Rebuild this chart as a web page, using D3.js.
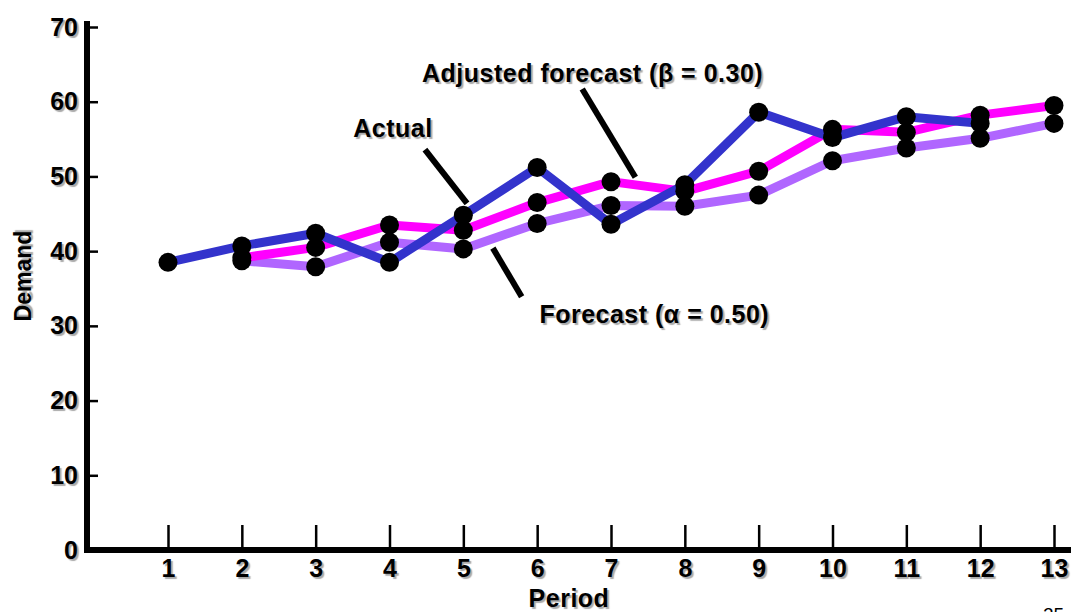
<!DOCTYPE html>
<html lang="en">
<head>
<meta charset="UTF-8">
<title>Trend adjusted forecast</title>
<script src="https://d3js.org/d3.v7.min.js"></script>
<style>
  body { margin: 0; background: #fff; }
  svg text {
    font-family: Arial, "Liberation Sans", sans-serif;
    font-weight: bold;
    font-size: 25px;
    fill: #000;
    text-shadow: 2px 2px 1px #aaa;
  }
  .lbl { letter-spacing: 0.5px; }
</style>
</head>
<body>
<div id="chart"></div>
<script>
// data
const periods = [1,2,3,4,5,6,7,8,9,10,11,12,13];
const actual = [38.5, 40.7, 42.4, 38.5, 44.8, 51.2, 43.6, 48.9, 58.6, 55.2, 58.0, 57.1];            // periods 1-12
const forecast = [38.7, 37.9, 41.2, 40.3, 43.7, 46.1, 46.0, 47.5, 52.1, 53.8, 55.1, 57.1];          // periods 2-13
const adjusted = [39.1, 40.5, 43.5, 42.8, 46.5, 49.3, 48.0, 50.7, 56.3, 55.9, 58.2, 59.5];          // periods 2-13
const yTicks = [0, 10, 20, 30, 40, 50, 60, 70];

// annotation leaders in data units [period, demand]
const leaders = [
  [[4.48, 53.6], [5.05, 46.4]],   // Actual
  [[5.40, 40.4], [5.79, 33.9]],   // Forecast
  [[6.61, 61.7], [7.33, 49.9]]    // Adjusted
];
const labels = [
  {text: "Actual", p: 3.51, v: 55.3},
  {text: "Adjusted forecast (\u03b2 = 0.30)", p: 4.44, v: 62.6},
  {text: "Forecast (\u03b1 = 0.50)", p: 6.03, v: 30.4}
];

const width = 1071, height = 612;
const svg = d3.select("#chart").append("svg")
  .attr("width", width).attr("height", height);

const x = d3.scaleLinear().domain([1, 13]).range([168, 1054]);
const y = d3.scaleLinear().domain([0, 70]).range([550, 27]);

// axes
const yAxis = d3.axisLeft(y).tickValues(yTicks).tickSize(-11).tickPadding(9);
const gy = svg.append("g").attr("transform", "translate(87,0)").call(yAxis);
gy.select(".domain").remove();
gy.selectAll(".tick line").attr("stroke", "#000").attr("stroke-width", 2.5);
gy.selectAll("text").attr("font-size", null).attr("font-family", null);

const xAxis = d3.axisBottom(x).tickValues(periods).tickSize(-25).tickPadding(9).tickFormat(d3.format("d"));
const gx = svg.append("g").attr("transform", "translate(0,550)").call(xAxis);
gx.select(".domain").remove();
gx.selectAll(".tick line").attr("stroke", "#000").attr("stroke-width", 2.5);
gx.selectAll("text").attr("font-size", null).attr("font-family", null);

svg.append("line").attr("x1", 87).attr("x2", 87).attr("y1", 21).attr("y2", 553)
  .attr("stroke", "#000").attr("stroke-width", 6);
svg.append("line").attr("x1", 84).attr("x2", width).attr("y1", 550).attr("y2", 550)
  .attr("stroke", "#000").attr("stroke-width", 6);

// axis titles
svg.append("text").attr("x", 569).attr("y", 607).attr("text-anchor", "middle")
  .style("letter-spacing", "0.5px").text("Period");
svg.append("text").attr("transform", "translate(31,276) rotate(-90)")
  .attr("text-anchor", "middle").style("font-size", "23px").text("Demand");
svg.append("text").attr("x", 1043).attr("y", 621)
  .style("font-weight", "normal").style("font-size", "19px").style("text-shadow", "none")
  .text("25");

// leaders under the series
svg.selectAll(".leader").data(leaders).enter().append("line")
  .attr("class", "leader")
  .attr("x1", d => x(d[0][0])).attr("y1", d => y(d[0][1]))
  .attr("x2", d => x(d[1][0])).attr("y2", d => y(d[1][1]))
  .attr("stroke", "#000").attr("stroke-width", 6);

svg.selectAll(".lbl").data(labels).enter().append("text")
  .attr("class", "lbl")
  .attr("x", d => x(d.p)).attr("y", d => y(d.v))
  .text(d => d.text);

// series
const series = [
  {name: "forecast", color: "#b066ff", pts: forecast.map((v, i) => [periods[i + 1], v])},
  {name: "adjusted", color: "#ff00ff", pts: adjusted.map((v, i) => [periods[i + 1], v])},
  {name: "actual", color: "#3333cc", pts: actual.map((v, i) => [periods[i], v])}
];

const line = d3.line().x(d => x(d[0])).y(d => y(d[1]));

svg.selectAll(".series").data(series).enter().append("path")
  .attr("class", "series")
  .attr("d", d => line(d.pts))
  .attr("fill", "none")
  .attr("stroke", d => d.color)
  .attr("stroke-width", 9)
  .attr("stroke-linejoin", "round");

series.forEach(s => {
  svg.selectAll(".dot-" + s.name).data(s.pts).enter().append("circle")
    .attr("class", "dot-" + s.name)
    .attr("cx", d => x(d[0])).attr("cy", d => y(d[1]))
    .attr("r", 9.5).attr("fill", "#000");
});
</script>
</body>
</html>
